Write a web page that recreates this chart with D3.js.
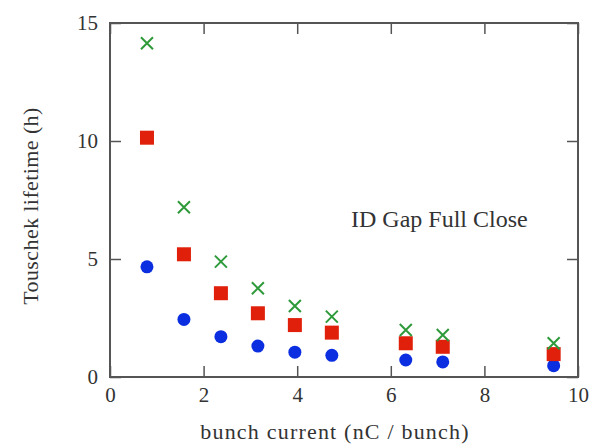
<!DOCTYPE html>
<html>
<head>
<meta charset="utf-8">
<script src="https://cdn.jsdelivr.net/npm/d3@7"></script>
<style>
  body { margin: 0; background: #fff; }
  svg text { fill: #333; }
</style>
</head>
<body>
<script>
// bunch current (nC / bunch)
const current = [0.79, 1.58, 2.37, 3.16, 3.95, 4.74, 6.32, 7.11, 9.48];
// Touschek lifetime (h) for each series
const crossVals = [14.14, 7.19, 4.89, 3.76, 3.01, 2.56, 1.99, 1.78, 1.43];
const squareVals = [10.14, 5.2, 3.55, 2.7, 2.2, 1.88, 1.43, 1.28, 0.97];
const circleVals = [4.67, 2.44, 1.71, 1.31, 1.05, 0.92, 0.72, 0.64, 0.48];
const xTicks = [0, 2, 4, 6, 8, 10];
const yTicks = [0, 5, 10, 15];

const width = 602, height = 444;
const margin = {top: 23, right: 24, bottom: 67, left: 110};
const serif = "'Liberation Serif', 'DejaVu Serif', 'Times New Roman', serif";

const svg = d3.select("body").append("svg")
    .attr("width", width)
    .attr("height", height);

const x = d3.scaleLinear().domain([0, 10]).range([margin.left, width - margin.right]);
const y = d3.scaleLinear().domain([0, 15]).range([height - margin.bottom, margin.top]);

const tickLen = 11;
const axisColor = "#555";

// frame
svg.append("rect")
    .attr("x", x(0)).attr("y", y(15))
    .attr("width", x(10) - x(0)).attr("height", y(0) - y(15))
    .attr("fill", "none").attr("stroke", axisColor).attr("stroke-width", 2);

// inward ticks on all four sides
function styleAxis(g) {
    g.attr("font-family", serif).attr("font-size", 21);
    g.select(".domain").remove();
    g.selectAll(".tick line").attr("stroke", axisColor).attr("stroke-width", 1.5);
    g.selectAll(".tick text").attr("fill", "#333");
}

svg.append("g")
    .attr("transform", `translate(0,${y(0)})`)
    .call(d3.axisBottom(x).tickValues(xTicks).tickSize(-tickLen).tickPadding(10))
    .call(styleAxis);
svg.append("g")
    .attr("transform", `translate(0,${y(15)})`)
    .call(d3.axisTop(x).tickValues(xTicks).tickSize(-tickLen).tickFormat(""))
    .call(styleAxis);
svg.append("g")
    .attr("transform", `translate(${x(0)},0)`)
    .call(d3.axisLeft(y).tickValues(yTicks).tickSize(-tickLen).tickPadding(12))
    .call(styleAxis);
svg.append("g")
    .attr("transform", `translate(${x(10)},0)`)
    .call(d3.axisRight(y).tickValues(yTicks).tickSize(-tickLen).tickFormat(""))
    .call(styleAxis);

// labels
svg.append("text")
    .attr("x", 335).attr("y", 439)
    .attr("text-anchor", "middle").attr("font-size", 22).attr("font-family", serif)
    .attr("letter-spacing", 1.2)
    .text("bunch current (nC / bunch)");
svg.append("text")
    .attr("transform", `translate(38,${206}) rotate(-90)`)
    .attr("text-anchor", "middle").attr("font-size", 22).attr("font-family", serif)
    .attr("letter-spacing", 0.4)
    .text("Touschek lifetime (h)");
svg.append("text")
    .attr("x", 351).attr("y", 227)
    .attr("font-size", 24).attr("font-family", serif)
    .text("ID Gap Full Close");

// markers
const circles = current.map((c, i) => ({x: c, y: circleVals[i]}));
const squares = current.map((c, i) => ({x: c, y: squareVals[i]}));
const crosses = current.map((c, i) => ({x: c, y: crossVals[i]}));

svg.append("g").selectAll("circle").data(circles).join("circle")
    .attr("cx", d => x(d.x)).attr("cy", d => y(d.y)).attr("r", 6.5)
    .attr("fill", "#0a2ee0");

svg.append("g").selectAll("rect").data(squares).join("rect")
    .attr("x", d => x(d.x) - 7).attr("y", d => y(d.y) - 7)
    .attr("width", 14).attr("height", 14)
    .attr("fill", "#e0200a");

const s = 6;
svg.append("g").selectAll("path").data(crosses).join("path")
    .attr("d", d => {
        const cx = x(d.x), cy = y(d.y);
        return `M${cx - s},${cy - s}L${cx + s},${cy + s}M${cx - s},${cy + s}L${cx + s},${cy - s}`;
    })
    .attr("stroke", "#2e9a3a").attr("stroke-width", 2).attr("fill", "none");
</script>
</body>
</html>
